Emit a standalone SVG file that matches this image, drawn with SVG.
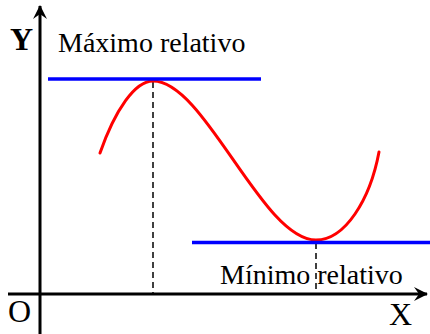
<svg xmlns="http://www.w3.org/2000/svg" width="430" height="334" viewBox="0 0 430 334">
<style>
.t{font-family:"Liberation Serif","Times New Roman",serif;font-size:28px;fill:#000}
.big{font-size:32px}
.axis{stroke:#000;stroke-width:3;fill:none}
.tan{stroke:#0000ff;stroke-width:3.5;fill:none}
.dash{stroke:#000;stroke-width:1.5;stroke-dasharray:6,4;fill:none}
.curve{stroke:#ff0000;stroke-width:3;fill:none;stroke-linecap:round}
</style>
<defs>
<marker id="ah" markerUnits="userSpaceOnUse" markerWidth="16" markerHeight="16" refX="13" refY="7" orient="auto">
<path d="M0,0 L14,7 L0,14 L5,7 Z" fill="#000"/>
</marker>
</defs>
<rect width="430" height="334" fill="#fff"/>
<g id="axes">
<line class="axis" x1="40" y1="334" x2="40" y2="6" marker-end="url(#ah)"/>
<line class="axis" x1="8" y1="294" x2="427" y2="294" marker-end="url(#ah)"/>
</g>
<g id="guides">
<line class="dash" x1="153" y1="82" x2="153" y2="294"/>
<line class="dash" x1="316" y1="243" x2="316" y2="294"/>
</g>
<g id="curve">
<path class="curve" d="M100,153 C115,110 135,81 153,81 C205,81 262,240 316,240 C345,240 370,200 379,152"/>
</g>
<g id="tangents">
<line class="tan" x1="48" y1="79" x2="261" y2="79"/>
<line class="tan" x1="192" y1="242.5" x2="430" y2="242.5"/>
</g>
<g id="labels">
<text class="t big" x="10" y="50" font-weight="bold">Y</text>
<text class="t" x="58" y="52">Máximo relativo</text>
<text class="t" x="220" y="284">Mínimo relativo</text>
<text class="t big" x="8" y="322">O</text>
<text class="t big" x="389" y="325">X</text>
</g>
</svg>
